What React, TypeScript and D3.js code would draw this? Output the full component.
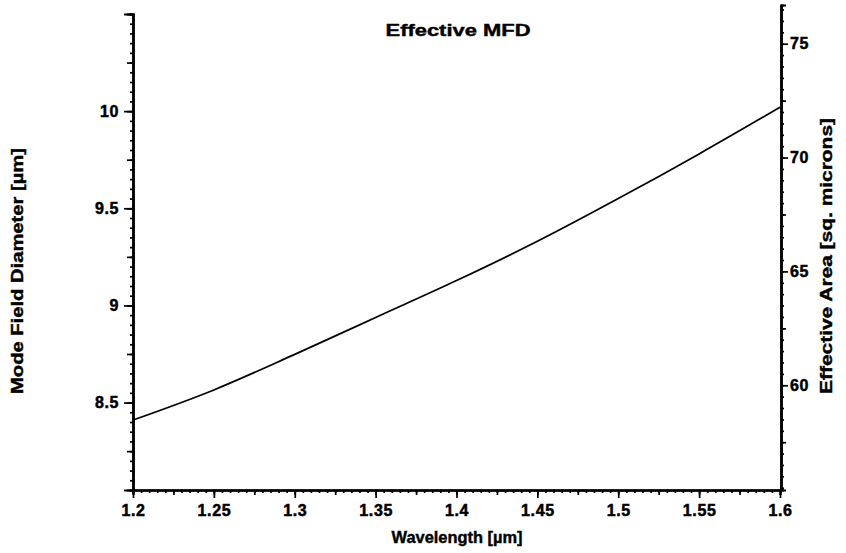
import React, { useEffect, useRef } from 'react';
import * as d3 from 'd3';

// wavelength [um] and effective mode field diameter [um]
const wavelength = [1.2, 1.25, 1.3, 1.35, 1.4, 1.45, 1.5, 1.55, 1.6];
const mfd = [8.41, 8.565, 8.748, 8.938, 9.128, 9.33, 9.55, 9.78, 10.02];

const xTicks = [1.2, 1.25, 1.3, 1.35, 1.4, 1.45, 1.5, 1.55, 1.6];
const leftTicks = [8.5, 9, 9.5, 10];
const rightTicks = [60, 65, 70, 75];

const W = 846;
const H = 553;
const FONT = '"Liberation Sans", Arial, sans-serif';

const App = () => {
  const svgRef = useRef<SVGSVGElement>(null);

  useEffect(() => {
    const svg = d3.select(svgRef.current);
    svg.selectAll('*').remove();

    const x = d3.scaleLinear().domain([1.2, 1.6]).range([133, 780]);
    const yL = d3.scaleLinear().domain([8.05, 10.5]).range([490, 14]);
    const yR = d3.scaleLinear().domain([55.4, 76.7]).range([490, 5]);

    // minor / medium ticks
    const minorX = d3.range(0, 81).map((i) => 1.2 + i * 0.005);
    const medX = d3.range(0, 17).map((i) => 1.2 + i * 0.025);
    const minorL = d3.range(0, 50).map((i) => 8.05 + i * 0.05);
    const medL = d3.range(0, 10).map((i) => 8.25 + i * 0.25);
    const minorR = d3.range(0, 43).map((i) => 55.5 + i * 0.5);
    const medR = d3.range(0, 9).map((i) => 55 + i * 2.5).filter((v) => v % 5 !== 0);

    const bottom = svg.append('g').attr('transform', 'translate(0,490)');
    bottom.append('g').call(d3.axisBottom(x).tickValues(minorX).tickSize(3).tickFormat(() => ''));
    bottom.append('g').call(d3.axisBottom(x).tickValues(medX).tickSize(5).tickFormat(() => ''));
    bottom.append('g').call(
      d3.axisBottom(x).tickValues(xTicks).tickSize(8).tickSizeOuter(0).tickPadding(7).tickFormat(d3.format('')),
    );

    const left = svg.append('g').attr('transform', 'translate(133,0)');
    left.append('g').call(d3.axisLeft(yL).tickValues(minorL).tickSize(3).tickFormat(() => ''));
    left.append('g').call(d3.axisLeft(yL).tickValues(medL).tickSize(6).tickFormat(() => ''));
    left.append('g').call(
      d3.axisLeft(yL).tickValues(leftTicks).tickSize(9).tickSizeOuter(9).tickPadding(5).tickFormat(d3.format('')),
    );

    const right = svg.append('g').attr('transform', 'translate(781,0)');
    right.append('g').call(d3.axisRight(yR).tickValues(minorR).tickSize(3).tickFormat(() => ''));
    right.append('g').call(d3.axisRight(yR).tickValues(medR).tickSize(5).tickFormat(() => ''));
    right.append('g').call(
      d3.axisRight(yR).tickValues(rightTicks).tickSize(7).tickSizeOuter(0).tickPadding(2).tickFormat(d3.format('')),
    );

    // axis styling
    svg.selectAll('.domain').attr('stroke', '#000').attr('stroke-width', 2.2);
    svg.selectAll('.tick line').attr('stroke', '#000').attr('stroke-width', 1.7);
    svg
      .selectAll('.tick text')
      .attr('font-family', FONT)
      .attr('font-weight', 'bold')
      .attr('font-size', 16)
      .attr('letter-spacing', 0.6)
      .attr('fill', '#000')
      .attr('stroke', '#000')
      .attr('stroke-width', 0.5);

    // curve
    const line = d3
      .line<number>()
      .x((_, i) => x(wavelength[i]))
      .y((d) => yL(d))
      .curve(d3.curveMonotoneX);
    svg
      .append('path')
      .datum(mfd)
      .attr('d', line)
      .attr('fill', 'none')
      .attr('stroke', '#000')
      .attr('stroke-width', 1.7);

    const txt = (t, xx, yy, len, rot = 0) =>
      svg
        .append('text')
        .attr('transform', `translate(${xx},${yy}) rotate(${rot})`)
        .attr('text-anchor', 'middle')
        .attr('font-family', FONT)
        .attr('font-weight', 'bold')
        .attr('font-size', 16)
        .attr('fill', '#000')
        .attr('stroke', '#000')
        .attr('stroke-width', 0.4)
        .attr('textLength', len)
        .attr('lengthAdjust', 'spacingAndGlyphs')
        .text(t);

    txt('Effective MFD', 458, 36, 145);
    txt('Wavelength [µm]', 457, 543, 131);
    txt('Mode Field Diameter [µm]', 23, 271, 246, -90);
    txt('Effective Area [sq. microns]', 832, 256, 276, -90);
  }, []);

  return (
    <svg
      ref={svgRef}
      width={W}
      height={H}
      style={{ position: 'absolute', left: 0, top: 0, background: '#fff' }}
    />
  );
};

export default App;
